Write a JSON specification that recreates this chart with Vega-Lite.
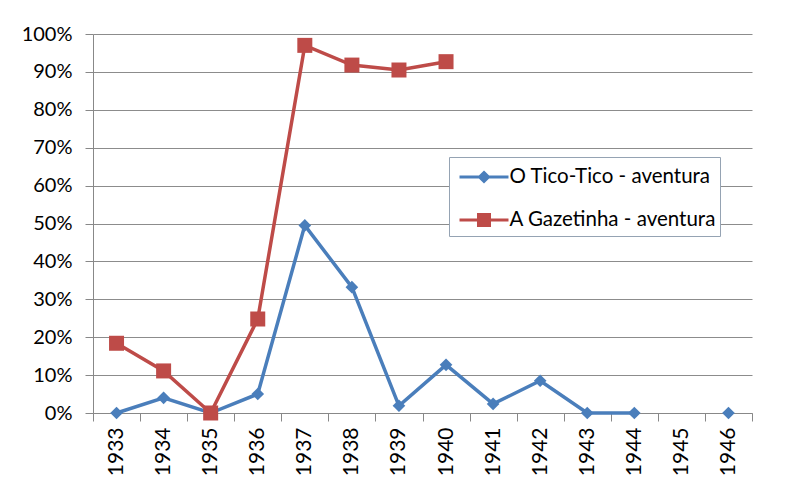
{
  "$schema": "https://vega.github.io/schema/vega-lite/v6.json",
  "autosize": "none",
  "width": 659,
  "height": 379,
  "padding": {"left": 93, "top": 34, "right": 45, "bottom": 69},
  "background": "white",
  "config": {
    "view": {"stroke": null},
    "font": "Lato",
    "axis": {"labelFont": "Lato", "labelColor": "#000000", "domainColor": "#888888", "tickColor": "#888888", "gridColor": "#8c8c8c", "domainWidth": 1, "tickWidth": 1, "gridWidth": 1}
  },
  "data": {
    "values": [
      {"year": "1933", "series": "O Tico-Tico - aventura", "value": 0.0},
      {"year": "1934", "series": "O Tico-Tico - aventura", "value": 0.04},
      {"year": "1935", "series": "O Tico-Tico - aventura", "value": 0.0},
      {"year": "1936", "series": "O Tico-Tico - aventura", "value": 0.05},
      {"year": "1937", "series": "O Tico-Tico - aventura", "value": 0.495},
      {"year": "1938", "series": "O Tico-Tico - aventura", "value": 0.332},
      {"year": "1939", "series": "O Tico-Tico - aventura", "value": 0.019},
      {"year": "1940", "series": "O Tico-Tico - aventura", "value": 0.127},
      {"year": "1941", "series": "O Tico-Tico - aventura", "value": 0.024},
      {"year": "1942", "series": "O Tico-Tico - aventura", "value": 0.085},
      {"year": "1943", "series": "O Tico-Tico - aventura", "value": 0.0},
      {"year": "1944", "series": "O Tico-Tico - aventura", "value": 0.0},
      {"year": "1945", "series": "O Tico-Tico - aventura", "value": null},
      {"year": "1946", "series": "O Tico-Tico - aventura", "value": 0.0},
      {"year": "1933", "series": "A Gazetinha - aventura", "value": 0.184},
      {"year": "1934", "series": "A Gazetinha - aventura", "value": 0.111},
      {"year": "1935", "series": "A Gazetinha - aventura", "value": 0.0},
      {"year": "1936", "series": "A Gazetinha - aventura", "value": 0.248},
      {"year": "1937", "series": "A Gazetinha - aventura", "value": 0.97},
      {"year": "1938", "series": "A Gazetinha - aventura", "value": 0.918},
      {"year": "1939", "series": "A Gazetinha - aventura", "value": 0.905},
      {"year": "1940", "series": "A Gazetinha - aventura", "value": 0.927}
    ]
  },
  "encoding": {
    "x": {
      "field": "year", "type": "ordinal",
      "scale": {"type": "band", "domain": ["1933","1934","1935","1936","1937","1938","1939","1940","1941","1942","1943","1944","1945","1946"], "paddingInner": 0, "paddingOuter": 0},
      "axis": {"title": null, "labelAngle": -90, "labelAlign": "right", "labelBaseline": "middle", "labelFontSize": 21, "labelPadding": 6, "tickSize": 8, "tickBand": "extent", "grid": false}
    },
    "y": {
      "field": "value", "type": "quantitative",
      "scale": {"domain": [0, 1], "nice": false},
      "axis": {"title": null, "format": ".0%", "values": [0,0.1,0.2,0.3,0.4,0.5,0.6,0.7,0.8,0.9,1], "labelFontSize": 20, "labelPadding": 13, "tickSize": 8, "grid": true}
    }
  },
  "layer": [
    {
      "mark": {"type": "line", "strokeWidth": 3.5, "invalid": "break-paths-show-domains"},
      "encoding": {
        "color": {"field": "series", "type": "nominal", "scale": {"domain": ["O Tico-Tico - aventura", "A Gazetinha - aventura"], "range": ["#4A7EBB", "#BE4B48"]}}
      }
    },
    {
      "transform": [{"filter": "datum.series === 'O Tico-Tico - aventura' && isValid(datum.value)"}],
      "mark": {"type": "point", "shape": "diamond", "filled": true, "size": 160, "opacity": 1},
      "encoding": {
        "color": {"field": "series", "type": "nominal"}
      }
    },
    {
      "transform": [{"filter": "datum.series === 'A Gazetinha - aventura' && isValid(datum.value)"}],
      "mark": {"type": "point", "shape": "square", "filled": true, "size": 225, "opacity": 1},
      "encoding": {
        "color": {"field": "series", "type": "nominal"}
      }
    },
    {
      "mark": {"type": "point", "filled": true, "opacity": 0},
      "encoding": {
        "color": {
          "field": "series", "type": "nominal",
          "legend": {
            "title": null, "orient": "none", "legendX": 356, "legendY": 123,
            "strokeColor": "#95a3b3", "fillColor": "white", "padding": 3.5,
            "symbolSize": 900, "symbolStrokeWidth": 3, "symbolOffset": 15, "symbolOpacity": 1,
            "rowPadding": 16, "labelFont": "Lato", "labelFontSize": 20.5, "labelColor": "#000000", "labelOffset": 9, "labelLimit": 400,
            "encode": {"symbols": {"update": {"fill": {"scale": "color", "field": "value"}, "stroke": {"scale": "color", "field": "value"}, "strokeWidth": {"value": 3}, "opacity": {"value": 1}}}}
          }
        },
        "shape": {
          "field": "series", "type": "nominal",
          "scale": {"domain": ["O Tico-Tico - aventura", "A Gazetinha - aventura"], "range": ["M-1.633,0H1.633M0,-0.3L0.3,0L0,0.3L-0.3,0Z", "M-1.633,0H1.633M-0.367,-0.367H0.367V0.367H-0.367Z"]},
          "legend": {"title": null}
        }
      }
    }
  ]
}
